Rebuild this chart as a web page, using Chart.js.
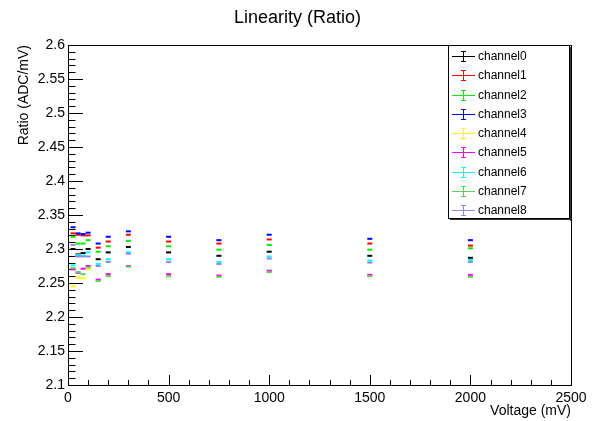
<!DOCTYPE html>
<html><head><meta charset="utf-8">
<script src="https://cdn.jsdelivr.net/npm/chart.js@4.4.0/dist/chart.umd.min.js"></script>
<style>html,body{margin:0;padding:0;background:#fff;overflow:hidden}</style>
</head><body>
<canvas id="c" width="595" height="421" style="display:block;width:595px;height:421px"></canvas>
<script>
const voltages = [25, 50, 75, 100, 150, 200, 300, 500, 750, 1000, 1500, 2000];
const channel0 = [2.300, 2.292, 2.294, 2.300, 2.285, 2.295, 2.303, 2.295, 2.290, 2.296, 2.290, 2.287];
const channel1 = [2.323, 2.321, 2.320, 2.320, 2.302, 2.311, 2.321, 2.311, 2.308, 2.314, 2.308, 2.305];
const channel2 = [2.318, 2.308, 2.308, 2.313, 2.296, 2.304, 2.312, 2.304, 2.299, 2.306, 2.299, 2.301];
const channel3 = [2.332, 2.323, 2.322, 2.324, 2.308, 2.318, 2.326, 2.318, 2.313, 2.321, 2.315, 2.313];
const channel4 = [2.245, 2.258, 2.257, 2.270, 2.254, 2.261, 2.275, 2.262, 2.260, 2.267, 2.261, 2.260];
const channel5 = [2.270, 2.265, 2.271, 2.275, 2.255, 2.263, 2.275, 2.263, 2.261, 2.268, 2.262, 2.262];
const channel6 = [2.276, 2.291, 2.290, 2.295, 2.278, 2.285, 2.295, 2.285, 2.281, 2.289, 2.283, 2.284];
const channel7 = [2.272, 2.266, 2.263, 2.273, 2.253, 2.260, 2.274, 2.260, 2.259, 2.266, 2.260, 2.259];
const channel8 = [2.306, 2.289, 2.289, 2.289, 2.275, 2.281, 2.293, 2.281, 2.278, 2.286, 2.280, 2.281];
const channelNames = ['channel0','channel1','channel2','channel3','channel4','channel5','channel6','channel7','channel8'];
const channelColors = ['#000000','#ff0000','#00ee00','#0000ff','#ffff00','#ff00ff','#00ffff','#59d454','#8c88e6'];
const xTickValues = [0, 500, 1000, 1500, 2000, 2500];
const yTickValues = [2.1, 2.15, 2.2, 2.25, 2.3, 2.35, 2.4, 2.45, 2.5, 2.55, 2.6];

const FONT = 'Liberation Sans, Arial, Helvetica, sans-serif';
const series = [channel0, channel1, channel2, channel3, channel4, channel5, channel6, channel7, channel8];

const datasets = series.map((vals, i) => ({
  label: channelNames[i],
  data: voltages.map((v, j) => ({x: v, y: vals[j]})),
  showLine: false,
  pointStyle: 'line',
  pointRadius: 2.5,
  pointHoverRadius: 2.5,
  pointBorderWidth: 2,
  pointBorderColor: channelColors[i],
  pointBackgroundColor: channelColors[i],
  borderColor: channelColors[i],
  backgroundColor: channelColors[i],
  order: 8 - i
}));

const rootDecor = {
  id: 'rootDecor',
  beforeDatasetsDraw(chart) {
    const {ctx, chartArea: a, scales: {x, y}} = chart;
    ctx.save();
    ctx.strokeStyle = '#000';
    ctx.lineWidth = 1;
    ctx.beginPath();
    for (let k = 0; k <= 50; k++) {
      const v = 2.1 + k * 0.01;
      const py = Math.round(y.getPixelForValue(v)) + 0.5;
      const len = (k % 5 === 0) ? 15 : 7.5;
      ctx.moveTo(a.left, py); ctx.lineTo(a.left + len, py);
    }
    for (let k = 0; k <= 25; k++) {
      const v = k * 100;
      const px = Math.round(x.getPixelForValue(v)) + 0.5;
      const len = (k % 5 === 0) ? 10 : 5;
      ctx.moveTo(px, a.bottom); ctx.lineTo(px, a.bottom - len);
    }
    ctx.stroke();
    ctx.strokeRect(Math.round(a.left) + 0.5, Math.round(a.top) + 0.5, Math.round(a.right - a.left), Math.round(a.bottom - a.top));
    ctx.restore();
  },
  afterDraw(chart) {
    const {ctx} = chart;
    ctx.save();
    ctx.fillStyle = '#000';
    ctx.font = '18px ' + FONT;
    ctx.textAlign = 'center';
    ctx.textBaseline = 'middle';
    ctx.fillText('Linearity (Ratio)', 297.5, 18);
    const lx0 = 448, ly0 = 45, lx1 = 569, ly1 = 218;
    ctx.fillStyle = '#fff';
    ctx.fillRect(lx0, ly0, lx1 - lx0, ly1 - ly0);
    ctx.strokeStyle = '#000';
    ctx.lineWidth = 1;
    ctx.strokeRect(lx0 + 0.5, ly0 + 0.5, lx1 - lx0, ly1 - ly0);
    ctx.fillStyle = '#333';
    ctx.fillRect(lx1 + 1, ly0 + 2, 1, ly1 - ly0 + 1);
    ctx.fillRect(lx0 + 2, ly1 + 1, lx1 - lx0, 1);
    ctx.font = '12px ' + FONT;
    ctx.textAlign = 'left';
    ctx.textBaseline = 'middle';
    chart.data.datasets.forEach((ds, i) => {
      const cy = Math.round(56 + i * 19.25) + 0.5;
      ctx.strokeStyle = ds.borderColor;
      ctx.lineWidth = 1;
      ctx.beginPath();
      ctx.moveTo(452, cy); ctx.lineTo(475, cy);
      ctx.moveTo(463.5, cy - 5); ctx.lineTo(463.5, cy + 5);
      ctx.moveTo(461, cy - 5); ctx.lineTo(466, cy - 5);
      ctx.moveTo(461, cy + 5); ctx.lineTo(466, cy + 5);
      ctx.stroke();
      ctx.fillStyle = '#000';
      ctx.fillText(ds.label, 478, cy + 0.5);
    });
    ctx.restore();
  }
};

new Chart(document.getElementById('c'), {
  type: 'scatter',
  data: {datasets},
  options: {
    responsive: false,
    animation: false,
    events: [],
    devicePixelRatio: 1,
    layout: {padding: {left: 0, right: 24, top: 45, bottom: 0}},
    plugins: {legend: {display: false}, tooltip: {enabled: false}, title: {display: false}},
    scales: {
      x: {
        type: 'linear', min: 0, max: 2500,
        afterBuildTicks: s => { s.ticks = xTickValues.map(v => ({value: v})); },
        afterFit: s => { s.height = 36; s.paddingLeft = 0; s.paddingRight = 0; },
        grid: {display: false, drawTicks: false},
        border: {display: false},
        ticks: {color: '#000', font: {family: FONT, size: 14}, padding: 5, maxRotation: 0, autoSkip: false,
                callback: v => String(v)},
        title: {display: true, text: 'Voltage (mV)', align: 'end', color: '#000',
                font: {family: FONT, size: 14}, padding: {top: 0, bottom: 1}}
      },
      y: {
        type: 'linear', min: 2.1, max: 2.6,
        afterBuildTicks: s => { s.ticks = yTickValues.map(v => ({value: v})); },
        afterFit: s => { s.width = 68; s.paddingTop = 0; s.paddingBottom = 0; },
        grid: {display: false, drawTicks: false},
        border: {display: false},
        ticks: {color: '#000', font: {family: FONT, size: 14}, padding: 3, autoSkip: false,
                callback: v => String(parseFloat(Number(v).toFixed(2)))},
        title: {display: true, text: 'Ratio (ADC/mV)', align: 'end', color: '#000',
                font: {family: FONT, size: 14}, padding: {top: 16, bottom: 0}}
      }
    }
  },
  plugins: [rootDecor]
});
</script>
</body></html>
